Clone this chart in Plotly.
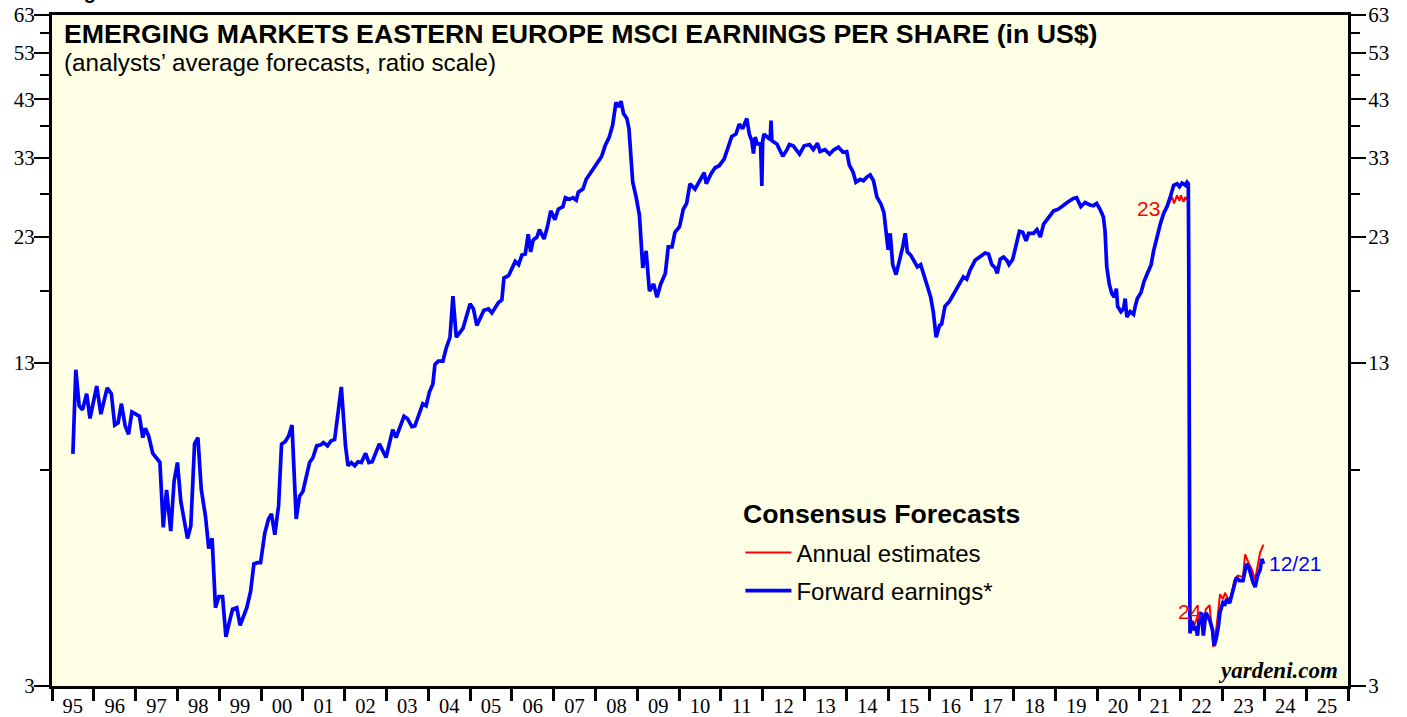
import numpy as np
import pandas as pd
import plotly.graph_objects as go

# ---------------- data ----------------
fwd_years = [
    1995.50, 1995.57, 1995.65, 1995.73, 1995.83, 1995.91,
    1996.07, 1996.17, 1996.32, 1996.42, 1996.50, 1996.58, 1996.66, 1996.75, 1996.83, 1996.91,
    1997.09, 1997.17, 1997.23, 1997.31, 1997.41, 1997.50, 1997.58, 1997.66, 1997.74, 1997.84, 1997.92,
    1998.00, 1998.08, 1998.24, 1998.32, 1998.41, 1998.49, 1998.57, 1998.67, 1998.75, 1998.83, 1998.91, 1998.99,
    1999.08, 1999.16, 1999.23, 1999.32, 1999.42, 1999.50, 1999.66, 1999.75, 1999.83, 1999.91, 1999.99,
    2000.09, 2000.18, 2000.25, 2000.33, 2000.42, 2000.49, 2000.58, 2000.66, 2000.74, 2000.84, 2000.92,
    2001.00, 2001.16, 2001.24, 2001.33, 2001.43, 2001.49, 2001.59, 2001.67, 2001.76, 2001.92,
    2002.02, 2002.08, 2002.16, 2002.24, 2002.32, 2002.40, 2002.50, 2002.58, 2002.66, 2002.83, 2002.99,
    2003.15, 2003.23, 2003.42, 2003.50, 2003.61, 2003.68, 2003.79, 2003.87, 2003.95,
    2004.03, 2004.11, 2004.16, 2004.24, 2004.35, 2004.43, 2004.52, 2004.59, 2004.67, 2004.83,
    2005.00, 2005.08, 2005.16, 2005.33, 2005.44, 2005.52, 2005.68, 2005.76, 2005.81, 2005.92,
    2006.00, 2006.08, 2006.16, 2006.24, 2006.32, 2006.39, 2006.45, 2006.51, 2006.60, 2006.66, 2006.77, 2006.85, 2006.93,
    2007.03, 2007.11, 2007.22, 2007.28, 2007.38, 2007.46, 2007.54, 2007.59, 2007.70, 2007.78, 2007.85, 2007.95,
    2008.05, 2008.15, 2008.23, 2008.33, 2008.41, 2008.49, 2008.55, 2008.61, 2008.67, 2008.75, 2008.80, 2008.83, 2008.89, 2008.97,
    2009.05, 2009.13, 2009.21, 2009.29, 2009.39, 2009.47, 2009.56, 2009.67, 2009.74, 2009.83, 2009.90,
    2010.01, 2010.10, 2010.18, 2010.26, 2010.38, 2010.49, 2010.60, 2010.65, 2010.76, 2010.86, 2010.96,
    2011.08, 2011.18, 2011.26, 2011.36, 2011.44, 2011.52, 2011.62, 2011.68, 2011.74, 2011.78, 2011.82, 2011.87, 2011.95, 2011.98, 2012.00,
    2012.03, 2012.10, 2012.18, 2012.20, 2012.22, 2012.34, 2012.42, 2012.48, 2012.58, 2012.64, 2012.73, 2012.88, 2012.99,
    2013.12, 2013.21, 2013.31, 2013.37, 2013.49, 2013.60, 2013.69, 2013.81, 2013.92,
    2014.01, 2014.07, 2014.16, 2014.23, 2014.33, 2014.41, 2014.49, 2014.57, 2014.65, 2014.73, 2014.83, 2014.90, 2014.95,
    2015.00, 2015.05, 2015.11, 2015.19, 2015.27, 2015.35, 2015.41, 2015.46, 2015.54, 2015.62, 2015.70, 2015.78, 2015.86, 2015.94,
    2016.02, 2016.08, 2016.15, 2016.23, 2016.28, 2016.36, 2016.47, 2016.56, 2016.71, 2016.80, 2016.88, 2016.96,
    2017.08, 2017.24, 2017.32, 2017.40, 2017.48, 2017.56, 2017.61, 2017.68, 2017.76, 2017.84, 2017.89, 2017.98,
    2018.06, 2018.14, 2018.22, 2018.30, 2018.36, 2018.48, 2018.56, 2018.64, 2018.72, 2018.84, 2018.96,
    2019.07, 2019.19, 2019.31, 2019.43, 2019.51, 2019.61, 2019.71, 2019.83, 2019.91, 2019.99,
    2020.07, 2020.15, 2020.19, 2020.23, 2020.29, 2020.35, 2020.41, 2020.46, 2020.49, 2020.57, 2020.63, 2020.67, 2020.71, 2020.79, 2020.87, 2020.91, 2020.96,
    2021.05, 2021.12, 2021.20, 2021.29, 2021.35, 2021.43, 2021.51, 2021.59, 2021.67, 2021.75, 2021.83, 2021.91, 2021.97,
    2022.03, 2022.11, 2022.15, 2022.18, 2022.19, 2022.21, 2022.22, 2022.27, 2022.30, 2022.36, 2022.40, 2022.45, 2022.50, 2022.54, 2022.60, 2022.65, 2022.70, 2022.76, 2022.80, 2022.85, 2022.90, 2022.94,
    2023.01, 2023.06, 2023.10, 2023.17, 2023.25, 2023.33, 2023.40, 2023.49, 2023.57, 2023.64, 2023.73, 2023.78, 2023.84, 2023.90, 2023.94, 2023.98,
]
fwd_values = [
    8.6, 12.6, 10.7, 10.5, 11.3, 10.1,
    11.7, 10.3, 11.6, 11.3, 9.8, 9.9, 10.8, 9.76, 9.4, 10.4,
    10.2, 9.26, 9.66, 9.33, 8.62, 8.46, 8.28, 6.16, 7.3, 6.06, 7.6,
    8.27, 6.94, 5.86, 6.2, 9.0, 9.26, 7.32, 6.49, 5.6, 5.86, 4.28, 4.5,
    4.5, 3.75, 3.97, 4.25, 4.28, 3.95, 4.28, 4.6, 5.22, 5.25, 5.25,
    6.0, 6.4, 6.55, 5.96, 6.8, 8.99, 9.1, 9.33, 9.8, 6.4, 7.1,
    7.25, 8.27, 8.45, 8.92, 8.96, 9.05, 8.92, 9.12, 9.18, 11.65,
    8.92, 8.15, 8.27, 8.15, 8.3, 8.27, 8.62, 8.27, 8.3, 9.0, 8.46,
    9.6, 9.26, 10.2, 10.1, 9.73, 9.76, 10.4, 10.8, 10.7,
    11.4, 11.8, 12.9, 13.1, 13.1, 13.9, 14.6, 17.6, 14.6, 15.2,
    17.0, 16.6, 15.4, 16.5, 16.6, 16.3, 17.1, 17.3, 19.1, 19.3,
    19.9, 20.6, 20.3, 21.2, 21.3, 23.3, 21.5, 22.7, 23.0, 23.8, 22.8, 24.1, 25.9,
    24.9, 26.1, 26.4, 27.5, 27.3, 27.5, 27.2, 28.2, 28.6, 29.9, 30.5, 31.3,
    32.2, 33.2, 34.8, 36.2, 38.2, 42.4, 41.5, 42.6, 40.3, 39.4, 37.6, 34.8, 29.5, 27.6,
    25.4, 20.0, 21.6, 18.0, 18.6, 17.5, 18.6, 19.5, 22.0, 22.0, 23.5,
    24.1, 26.1, 26.8, 29.3, 28.6, 29.7, 30.8, 29.3, 30.6, 31.5, 31.8,
    32.8, 34.5, 36.3, 36.7, 38.4, 37.6, 39.4, 36.7, 35.6, 33.6, 36.2, 35.1, 35.1, 29.0, 35.5,
    36.7, 36.2, 35.8, 39.0, 35.6, 35.1, 33.9, 33.2, 34.2, 35.0, 34.8, 33.5, 34.8,
    35.0, 34.2, 35.2, 33.9, 34.2, 33.5, 34.1, 34.6, 33.8,
    33.9, 31.9, 30.9, 29.5, 29.9, 29.7, 30.2, 30.5, 29.7, 27.6, 26.7, 25.7, 23.6,
    21.7, 23.4, 20.3, 19.4, 20.6, 22.0, 23.4, 21.5, 21.2, 20.7, 20.1, 20.3, 19.2, 18.4,
    17.5, 16.4, 14.6, 15.4, 15.5, 16.8, 17.2, 17.7, 18.6, 19.2, 19.0, 19.8,
    20.7, 21.2, 21.4, 21.3, 20.3, 20.0, 19.5, 20.8, 21.0, 20.7, 20.3, 20.8,
    22.1, 23.6, 23.5, 22.6, 23.4, 23.4, 23.8, 23.0, 24.4, 25.2, 25.9,
    26.1, 26.6, 27.0, 27.4, 27.5, 26.4, 26.9, 26.6, 26.5, 26.8,
    26.1, 25.2, 23.6, 20.1, 18.6, 17.8, 17.5, 18.2, 16.8, 16.4, 16.6, 17.4, 16.0, 16.4, 16.2, 16.8, 17.4,
    17.9, 18.8, 19.5, 20.3, 21.6, 23.0, 24.4, 25.6, 26.4, 27.6, 29.1, 29.3, 28.9,
    29.4, 29.1, 29.5, 29.3, 21.2, 3.84, 3.81, 4.03, 3.87, 3.93, 3.77, 4.15, 4.18, 3.77, 4.18, 4.12, 4.03, 3.87, 3.60, 3.73, 3.93, 4.2,
    4.38, 4.35, 4.45, 4.37, 4.6, 4.91, 4.84, 4.84, 5.22, 5.1, 4.8, 4.7, 4.95, 5.09, 5.34, 5.22,
]

est23_years = [2021.71, 2021.79, 2021.84, 2021.91, 2021.97, 2022.00, 2022.07, 2022.11, 2022.15]
est23_values = [26.8, 27.6, 26.8, 27.8, 27.1, 27.8, 27.0, 27.6, 27.2]

est24_years = [2022.22, 2022.30, 2022.37, 2022.45, 2022.52, 2022.60, 2022.69, 2022.74, 2022.78,
               2022.86, 2022.94, 2023.01, 2023.06, 2023.13, 2023.20, 2023.28, 2023.36, 2023.49,
               2023.54, 2023.62, 2023.70, 2023.78, 2023.86, 2023.90, 2023.98]
est24_values = [4.15, 3.9, 4.05, 4.2, 3.87, 4.25, 4.33, 3.93, 3.58,
                3.95, 4.55, 4.45, 4.58, 4.45, 4.5, 4.84, 4.95, 4.92,
                5.45, 5.25, 5.09, 4.86, 5.3, 5.5, 5.7]

year_labels = ["95", "96", "97", "98", "99", "00", "01", "02", "03", "04", "05", "06", "07", "08", "09",
               "10", "11", "12", "13", "14", "15", "16", "17", "18", "19", "20", "21", "22", "23", "24", "25"]
y_major = [3, 13, 23, 33, 43, 53, 63]
y_minor = [8, 18, 28, 38, 48, 58]

assert len(fwd_years) == len(fwd_values)
assert len(est23_years) == len(est23_values)
assert len(est24_years) == len(est24_values)


def to_dates(years):
    out = []
    for y in years:
        yr = int(np.floor(y))
        start = pd.Timestamp(yr, 1, 1)
        end = pd.Timestamp(yr + 1, 1, 1)
        out.append(start + (end - start) * (y - yr))
    return out


fwd_x = to_dates(fwd_years)
e23_x = to_dates(est23_years)
e24_x = to_dates(est24_years)

first_year = 1995
tick_pos = [pd.Timestamp(first_year + i, 7, 2) for i in range(len(year_labels))]
x_range = [pd.Timestamp(first_year, 1, 1), pd.Timestamp(first_year + len(year_labels), 1, 1)]
y_range = [np.log10(y_major[0]), np.log10(y_major[-1])]

SANS = "Liberation Sans, Arial, sans-serif"
SERIF = "Liberation Serif, Times New Roman, serif"
RED = "#FF0000"
BLUE = "#0000FF"

fig = go.Figure()
fig.add_trace(go.Scatter(x=e23_x, y=est23_values, mode="lines", name="Annual estimates",
                         line=dict(color=RED, width=2), legendgroup="est", yaxis="y"))
fig.add_trace(go.Scatter(x=e24_x, y=est24_values, mode="lines", name="Annual estimates",
                         line=dict(color=RED, width=2), legendgroup="est", showlegend=False, yaxis="y"))
fig.add_trace(go.Scatter(x=fwd_x, y=fwd_values, mode="lines", name="Forward earnings*",
                         line=dict(color=BLUE, width=3.7), legendgroup="fwd", yaxis="y2"))

yax_common = dict(
    type="log", range=y_range, tickmode="array", tickvals=y_major, ticktext=[str(v) for v in y_major],
    ticks="outside", ticklen=15, tickwidth=1.5, tickcolor="black",
    minor=dict(tickmode="array", tickvals=y_minor, ticks="outside", ticklen=9, tickwidth=1.5, tickcolor="black"),
    showgrid=False, zeroline=False, showline=True, linewidth=3, linecolor="black",
    tickfont=dict(family=SERIF, size=21, color="black"), automargin=False,
)

fig.update_layout(
    width=1407, height=717,
    margin=dict(l=52, r=59, t=15, b=31, autoexpand=False),
    paper_bgcolor="white", plot_bgcolor="#FFFFE6",
    showlegend=True,
    legend=dict(x=0.5312, y=0.232, xanchor="left", yanchor="top", bgcolor="rgba(0,0,0,0)",
                font=dict(family=SANS, size=24, color="black"), tracegroupgap=4,
                itemwidth=46),
    xaxis=dict(
        type="date", range=x_range, tickmode="array", tickvals=tick_pos, ticktext=year_labels,
        ticks="", ticklabelstandoff=-1, automargin=False,
        minor=dict(dtick="M12", tick0=x_range[0], ticks="outside", ticklen=12, tickwidth=2.5, tickcolor="black"),
        showgrid=False, zeroline=False, showline=True, linewidth=3, linecolor="black", mirror=True,
        tickfont=dict(family=SERIF, size=20.5, color="black"),
    ),
    yaxis=dict(side="left", ticklabelstandoff=-5, **yax_common),
    yaxis2=dict(side="right", overlaying="y", ticklabelstandoff=-2, **yax_common),
)

annotations = [
    dict(text="<b>Figure</b>", xref="paper", yref="paper", x=0.0093, y=1, xanchor="left", yanchor="bottom",
         yshift=10, showarrow=False, font=dict(family=SANS, size=20, color="black")),
    dict(text="<b>EMERGING MARKETS EASTERN EUROPE MSCI EARNINGS PER SHARE (in US$)</b>",
         xref="paper", yref="paper", x=0.0077, y=0.9717, xanchor="left", yanchor="middle",
         showarrow=False, font=dict(family=SANS, size=26.7, color="black")),
    dict(text="(analysts\u2019 average forecasts, ratio scale)",
         xref="paper", yref="paper", x=0.0077, y=0.9285, xanchor="left", yanchor="middle",
         showarrow=False, font=dict(family=SANS, size=24.2, color="black")),
    dict(text="<b>Consensus Forecasts</b>", xref="paper", yref="paper", x=0.5317, y=0.2563,
         xanchor="left", yanchor="middle", showarrow=False, font=dict(family=SANS, size=26.7, color="black")),
    dict(text="<b><i>yardeni.com</i></b>", xref="paper", yref="paper", x=0.9938, y=0.0238,
         xanchor="right", yanchor="middle", showarrow=False, font=dict(family=SERIF, size=23, color="black")),
    dict(text="23", xref="x", yref="y", x=e23_x[0], y=np.log10(est23_values[0]), xanchor="right",
         yanchor="middle", xshift=-7, yshift=-5, showarrow=False, font=dict(family=SANS, size=21, color=RED)),
    dict(text="24", xref="x", yref="y", x=e24_x[0], y=np.log10(est24_values[0]), xanchor="center",
         yanchor="middle", yshift=3, showarrow=False, font=dict(family=SANS, size=21, color=RED)),
    dict(text="12/21", xref="x", yref="y", x=fwd_x[-1], y=np.log10(fwd_values[-1]), xanchor="left",
         yanchor="middle", xshift=3, showarrow=False, font=dict(family=SANS, size=21, color=BLUE)),
]
fig.update_layout(annotations=annotations)

fig.write_html("out.html", config={"displayModeBar": False},
               post_script="document.body.style.margin='0';")
